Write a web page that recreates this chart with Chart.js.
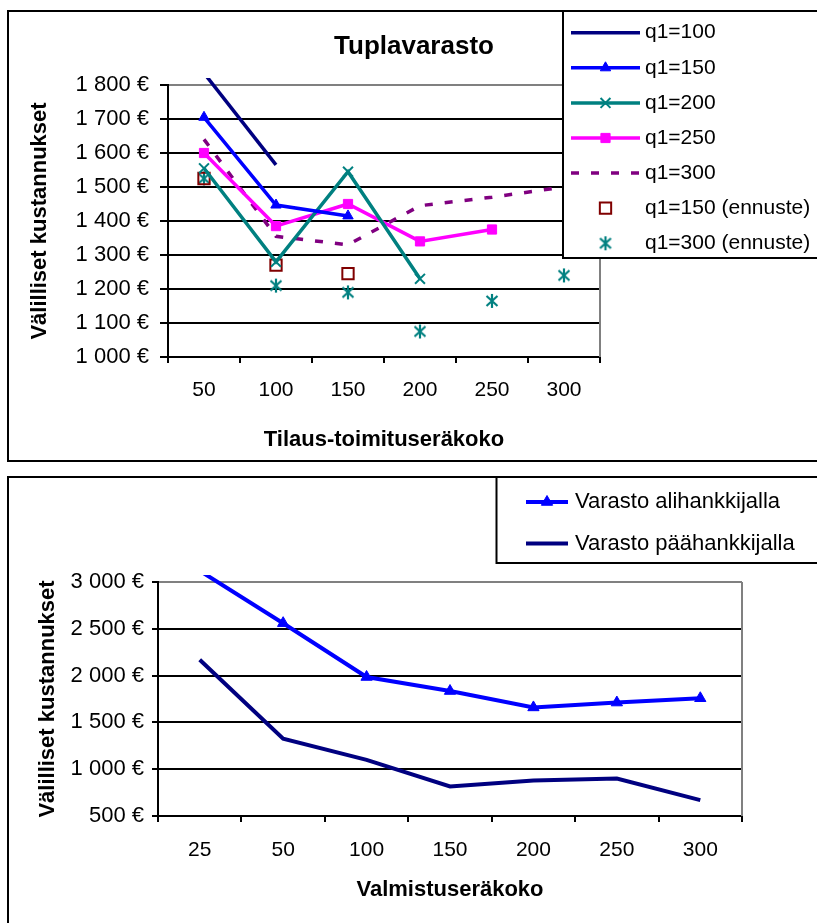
<!DOCTYPE html>
<html>
<head>
<meta charset="utf-8">
<title>Tuplavarasto</title>
<script src="https://cdn.jsdelivr.net/npm/chart.js@4.4.1/dist/chart.umd.min.js"></script>
<style>
  html, body { margin: 0; padding: 0; background: #fff; overflow: hidden; }
  canvas { position: absolute; left: 0; }
  #top { top: 0; }
  #bottom { top: 470px; }
</style>
</head>
<body>
<canvas id="top" width="817" height="470"></canvas>
<canvas id="bottom" width="817" height="453"></canvas>
<script>
// upper chart: costs by order-delivery batch size
const orderSizes = ['50', '100', '150', '200', '250', '300'];
const q100 = [1835, 1565, null, null, null, null];
const q150 = [1705, 1447, 1415, null, null, null];
const q200 = [1555, 1280, 1545, 1230, null, null];
const q250 = [1600, 1385, 1450, 1340, 1375, null];
const q300 = [1640, 1355, 1330, 1445, 1470, 1500];
const q150Forecast = [1525, 1270, 1245, null, null, null];
const q300Forecast = [1525, 1210, 1190, 1075, 1165, 1240];

// lower chart: costs by production batch size
const batchSizes = ['25', '50', '100', '150', '200', '250', '300'];
const subcontractorStock = [3120, 2560, 1985, 1835, 1660, 1712, 1758];
const mainSupplierStock = [2170, 1325, 1100, 815, 880, 900, 670];

Chart.defaults.font.family = "'Liberation Sans', Arial, sans-serif";
Chart.defaults.color = '#000';

function euro(v) {
  return String(v).replace(/\B(?=(\d{3})+(?!\d))/g, ' ') + ' €';
}

// asterisk marker (x with a vertical bar)
function asterisk(color) {
  const c = document.createElement('canvas');
  c.width = 16; c.height = 16;
  const g = c.getContext('2d');
  g.strokeStyle = color;
  g.lineWidth = 2.2;
  g.beginPath();
  g.moveTo(2.5, 3); g.lineTo(13.5, 13);
  g.moveTo(13.5, 3); g.lineTo(2.5, 13);
  g.moveTo(8, 1); g.lineTo(8, 15);
  g.stroke();
  return c;
}

const clipTop = {left: 0, top: 7, right: 0, bottom: 0};

// frame, plot border, title and boxed legend
const decor = {
  id: 'decor',
  beforeDraw(chart, args, o) {
    const ctx = chart.ctx;
    ctx.save();
    ctx.lineWidth = 2;
    ctx.strokeStyle = '#000';
    ctx.strokeRect(o.frame[0], o.frame[1], o.frame[2], o.frame[3]);
    ctx.restore();
  },
  afterDraw(chart, args, o) {
    const ctx = chart.ctx;
    const a = chart.chartArea;
    ctx.save();
    ctx.strokeStyle = '#808080';
    ctx.lineWidth = 2;
    ctx.beginPath();
    ctx.moveTo(a.right, a.top);
    ctx.lineTo(a.right, a.bottom);
    ctx.stroke();

    if (o.title) {
      ctx.fillStyle = '#000';
      ctx.font = "bold 26px 'Liberation Sans', Arial, sans-serif";
      ctx.textAlign = 'center';
      ctx.textBaseline = 'middle';
      ctx.fillText(o.title.text, o.title.x, o.title.y);
    }

    const L = o.legend;
    ctx.fillStyle = '#fff';
    ctx.fillRect(L.x, L.y, L.w, L.h);
    ctx.strokeStyle = '#000';
    ctx.lineWidth = 2;
    ctx.strokeRect(L.x, L.y, L.w, L.h);
    ctx.font = L.font;
    ctx.textAlign = 'left';
    ctx.textBaseline = 'middle';
    chart.data.datasets.forEach((ds, i) => {
      const y = L.y + L.first + i * L.gap;
      const mid = (L.x1 + L.x2) / 2;
      if (ds.showLine !== false) {
        ctx.save();
        ctx.strokeStyle = ds.borderColor;
        ctx.lineWidth = ds.borderWidth;
        ctx.setLineDash(ds.borderDash || []);
        ctx.beginPath();
        ctx.moveTo(L.x1, y);
        ctx.lineTo(L.x2, y);
        ctx.stroke();
        ctx.restore();
      }
      if (ds.pointRadius > 0) {
        ctx.save();
        ctx.fillStyle = ds.pointBackgroundColor;
        ctx.strokeStyle = ds.pointBorderColor;
        ctx.lineWidth = ds.pointBorderWidth;
        Chart.helpers.drawPoint(ctx, {
          pointStyle: ds.pointStyle, radius: ds.pointRadius,
          rotation: 0, borderWidth: ds.pointBorderWidth
        }, mid, y);
        ctx.restore();
      }
      ctx.fillStyle = '#000';
      ctx.fillText(ds.label, L.tx, y);
    });
    ctx.restore();
  }
};

function yScale(min, max, step, width, tickLen, tickPad, titlePad) {
  return {
    min: min, max: max,
    ticks: {stepSize: step, padding: tickPad, font: {size: 22}, callback: v => euro(v)},
    grid: {
      color: c => (c.tick && c.tick.value === max) ? '#808080' : '#000',
      lineWidth: 2, tickLength: tickLen, tickColor: '#000'
    },
    border: {color: '#000', width: 2},
    title: {display: true, text: 'Välilliset kustannukset', font: {size: 22, weight: 'bold'}, padding: {top: titlePad, bottom: 0}},
    afterFit: s => { s.width = width; }
  };
}

function xScale(title, height, tickPad, titlePad) {
  return {
    offset: true,
    ticks: {padding: tickPad, font: {size: 21}, maxRotation: 0},
    grid: {offset: true, drawOnChartArea: false, tickLength: 6, color: '#000', lineWidth: 2},
    border: {color: '#000', width: 2},
    title: {display: true, text: title, font: {size: 22, weight: 'bold'}, padding: {top: 0, bottom: titlePad}},
    afterFit: s => { s.height = height; }
  };
}

new Chart(document.getElementById('top'), {
  type: 'line',
  data: {
    labels: orderSizes,
    datasets: [
      {label: 'q1=100', data: q100, borderColor: '#000080', borderWidth: 3.5, pointRadius: 0, clip: clipTop},
      {label: 'q1=150', data: q150, borderColor: '#0000ff', borderWidth: 3.5, pointStyle: 'triangle', pointRadius: 6,
        pointBackgroundColor: '#0000ff', pointBorderColor: '#0000ff', pointBorderWidth: 1, clip: clipTop},
      {label: 'q1=200', data: q200, borderColor: '#008080', borderWidth: 3.5, pointStyle: 'crossRot', pointRadius: 7,
        pointBackgroundColor: '#008080', pointBorderColor: '#008080', pointBorderWidth: 2, clip: clipTop},
      {label: 'q1=250', data: q250, borderColor: '#ff00ff', borderWidth: 3.5, pointStyle: 'rect', pointRadius: 6.5,
        pointBackgroundColor: '#ff00ff', pointBorderColor: '#ff00ff', pointBorderWidth: 1, clip: clipTop},
      {label: 'q1=300', data: q300, borderColor: '#800080', borderWidth: 3.5, borderDash: [8, 12], pointRadius: 0, clip: clipTop},
      {label: 'q1=150 (ennuste)', data: q150Forecast, showLine: false, pointStyle: 'rect', pointRadius: 8,
        pointBackgroundColor: 'rgba(0,0,0,0)', pointBorderColor: '#800000', pointBorderWidth: 2, clip: clipTop},
      {label: 'q1=300 (ennuste)', data: q300Forecast, showLine: false, pointStyle: asterisk('#008080'), pointRadius: 7,
        pointBackgroundColor: '#008080', pointBorderColor: '#008080', pointBorderWidth: 2, clip: clipTop}
    ]
  },
  options: {
    responsive: false,
    animation: false,
    events: [],
    layout: {padding: {left: 0, top: 85, right: 217, bottom: 10}},
    scales: {
      x: xScale('Tilaus-toimituseräkoko', 103, 15, 7),
      y: yScale(1000, 1800, 100, 168, 8, 11, 27)
    },
    plugins: {
      legend: {display: false},
      tooltip: {enabled: false},
      decor: {
        frame: [8, 11, 900, 450],
        title: {text: 'Tuplavarasto', x: 414, y: 47},
        legend: {x: 563, y: 11, w: 300, h: 247, x1: 571, x2: 640, tx: 645, first: 21.7, gap: 35.1,
          font: "21px 'Liberation Sans', Arial, sans-serif"}
      }
    }
  },
  plugins: [decor]
});

new Chart(document.getElementById('bottom'), {
  type: 'line',
  data: {
    labels: batchSizes,
    datasets: [
      {label: 'Varasto alihankkijalla', data: subcontractorStock, borderColor: '#0000ff', borderWidth: 4,
        pointStyle: 'triangle', pointRadius: 6.5, pointBackgroundColor: '#0000ff', pointBorderColor: '#0000ff',
        pointBorderWidth: 1, clip: clipTop},
      {label: 'Varasto päähankkijalla', data: mainSupplierStock, borderColor: '#000080', borderWidth: 4,
        pointRadius: 0, clip: clipTop}
    ]
  },
  options: {
    responsive: false,
    animation: false,
    events: [],
    layout: {padding: {left: 0, top: 112, right: 75, bottom: 7}},
    scales: {
      x: xScale('Valmistuseräkoko', 100, 16, 13),
      y: yScale(500, 3000, 500, 158, 6, 8, 35)
    },
    plugins: {
      legend: {display: false},
      tooltip: {enabled: false},
      decor: {
        frame: [8, 7, 900, 500],
        legend: {x: 496.5, y: 7, w: 340, h: 86, x1: 526, x2: 568, tx: 575, first: 25, gap: 41.5,
          font: "22px 'Liberation Sans', Arial, sans-serif"}
      }
    }
  },
  plugins: [decor]
});
</script>
</body>
</html>
